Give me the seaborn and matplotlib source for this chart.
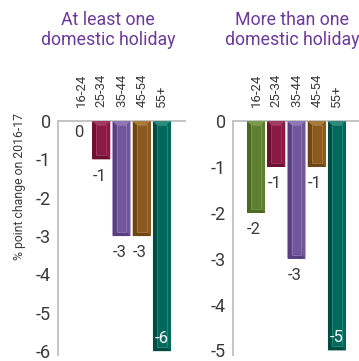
import matplotlib
matplotlib.use("Agg")
import matplotlib.pyplot as plt
from matplotlib.patches import Polygon
from matplotlib.transforms import ScaledTranslation
import seaborn as sns
import pandas as pd

# Age bands and % point change on 2016-17
age_groups = ["16-24", "25-34", "35-44", "45-54", "55+"]
at_least_one = [0, -1, -3, -3, -6]
more_than_one = [-2, -1, -3, -1, -5]

panel_titles = ["At least one\ndomestic holiday", "More than one\ndomestic holiday"]
y_ticks_min = [-6, -5]
y_limits = [-6.1, -5.1]

bar_colors = ["#5e7f2e", "#8a1a44", "#71579a", "#8a5a20", "#00695c"]
dark_colors = ["#4a6822", "#6c0f31", "#573e7f", "#6d4514", "#004c42"]
light_colors = ["#7c9a4e", "#a33a62", "#8f76b4", "#a87a3e", "#2f8a7e"]
title_color = "#6b3a9c"
spine_color = "#c4c4c4"
text_color = "#3a3a3a"

sns.set_theme(style="white")
plt.rcParams["font.family"] = ["Roboto", "DejaVu Sans"]

fig = plt.figure(figsize=(3.59, 3.61), dpi=100)
ax_h = 234 / 361
ax_b = (361 - 355) / 361
axes = [fig.add_axes([58 / 359, ax_b, 127 / 359, ax_h]),
        fig.add_axes([233 / 359, ax_b, 127 / 359, ax_h])]
title_x = [108 / 359, 292 / 359]

series = [at_least_one, more_than_one]
shift_left = ScaledTranslation(-4 / 100, 0, fig.dpi_scale_trans)

for ax, values, title, tmin, ylo, tx in zip(axes, series, panel_titles,
                                           y_ticks_min, y_limits, title_x):
    df = pd.DataFrame({"age": age_groups, "change": values})
    sns.barplot(data=df, x="age", y="change", hue="age", palette=bar_colors,
                legend=False, width=0.89, ax=ax, linewidth=0, saturation=1)
    ax.set_xlim(-1.14, 5.14)
    ax.set_ylim(ylo, 0)
    ax.set_yticks(range(tmin, 1))
    ax.set_yticklabels([str(v) for v in range(tmin, 1)], fontsize=13,
                       color=text_color)
    ax.xaxis.tick_top()
    ax.set_xticks(range(len(age_groups)))
    ax.set_xticklabels(age_groups, rotation=90, fontsize=9.5, color=text_color)
    for lab in ax.get_xticklabels():
        lab.set_transform(lab.get_transform() + shift_left)
    ax.tick_params(axis="y", length=0, pad=5)
    ax.tick_params(axis="x", length=0, pad=10)
    ax.set_xlabel("")
    ax.set_ylabel("")
    for side in ["right", "bottom"]:
        ax.spines[side].set_visible(False)
    for side in ["left", "top"]:
        ax.spines[side].set_color(spine_color)
        ax.spines[side].set_linewidth(1.4)
    fig.text(tx, 1 - 11 / 361, title, ha="center", va="top", fontsize=12.8,
             color=title_color, linespacing=1.15)

axes[0].set_ylabel("% point change on 2016-17", fontsize=8.8, color=text_color)
axes[0].yaxis.set_label_coords(-0.25, 0.72)

fig.canvas.draw()

# Bevelled bar faces and value labels
for ax, values in zip(axes, series):
    bars = list(ax.patches)
    inv = ax.transData.inverted()
    for i, (bar, val) in enumerate(zip(bars, values)):
        x0, w = bar.get_x(), bar.get_width()
        x1 = x0 + w
        y_top, y_bot = 0, val
        if val != 0:
            px0, py0 = ax.transData.transform((x0, y_bot))
            px1, py1 = ax.transData.transform((x1, y_top))
            b = 4.0
            ix0, iy0 = inv.transform((px0 + b, py0 + b))
            ix1, iy1 = inv.transform((px1 - b, py1 - b))
            bands = [
                ([(x0, y_bot), (x0, y_top), (ix0, iy1), (ix0, iy0)], dark_colors[i]),
                ([(x0, y_top), (x1, y_top), (ix1, iy1), (ix0, iy1)], light_colors[i]),
                ([(x1, y_top), (x1, y_bot), (ix1, iy0), (ix1, iy1)], bar_colors[i]),
                ([(x0, y_bot), (x1, y_bot), (ix1, iy0), (ix0, iy0)], dark_colors[i]),
            ]
            for pts, col in bands:
                ax.add_patch(Polygon(pts, closed=True, facecolor=col,
                                     edgecolor="none", zorder=3))
            ax.add_patch(Polygon([(ix0, iy0), (ix1, iy0), (ix1, iy1), (ix0, iy1)],
                                 closed=True, facecolor="none",
                                 edgecolor=light_colors[i], linewidth=0.6, zorder=4))
        label = f"{val:d}"
        if i == len(values) - 1:
            ax.annotate(label, (i, val), xytext=(0, 9), textcoords="offset points",
                        ha="center", va="center", fontsize=12, color="white",
                        zorder=5)
        else:
            ax.annotate(label, (i - 0.1, val), xytext=(0, -12 if val != 0 else -8),
                        textcoords="offset points", ha="center", va="center",
                        fontsize=12, color=text_color, zorder=5,
                        annotation_clip=False)

fig.savefig("out.png", dpi=100)
